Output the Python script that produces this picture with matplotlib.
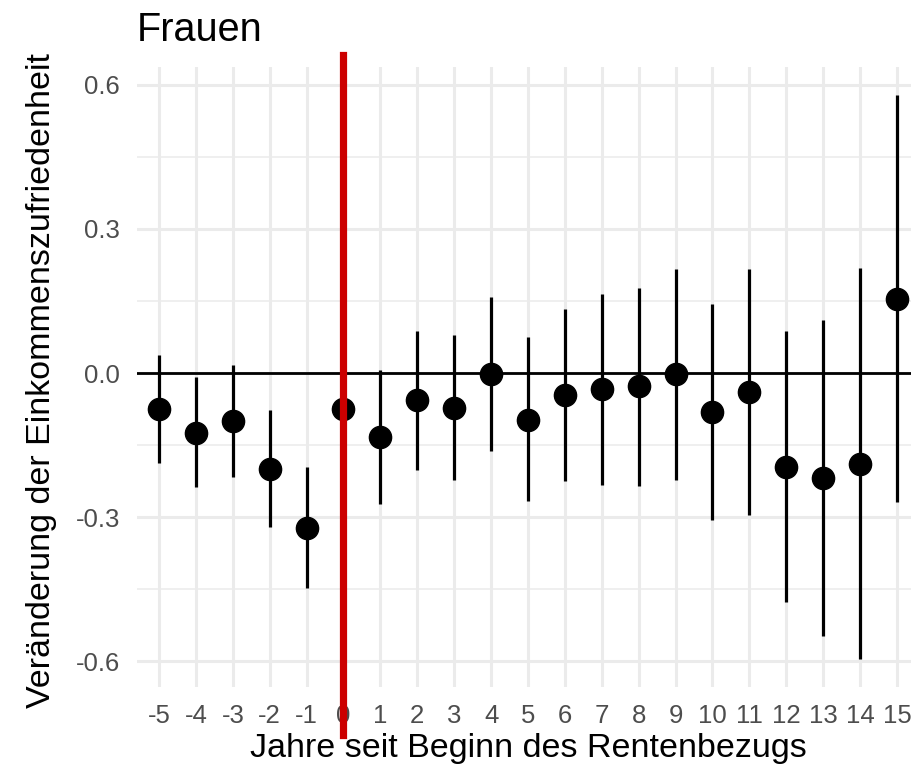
import matplotlib
matplotlib.use("Agg")
from matplotlib import pyplot as plt
from matplotlib.ticker import MultipleLocator
import numpy as np

# Jahre relativ zum Rentenbeginn und geschaetzte Effekte mit Konfidenzintervallen
jahre = [-5, -4, -3, -2, -1, 0, 1, 2, 3, 4, 5, 6, 7, 8, 9, 10, 11, 12, 13, 14, 15]
effekt = [-0.075, -0.124, -0.100, -0.199, -0.322, -0.076, -0.133, -0.056, -0.072, -0.002,
          -0.097, -0.046, -0.034, -0.027, -0.003, -0.082, -0.039, -0.195, -0.218, -0.189, 0.155]
ki_oben = [0.037, -0.009, 0.017, -0.078, -0.195, 0.052, 0.006, 0.088, 0.080, 0.158,
           0.074, 0.133, 0.165, 0.178, 0.216, 0.144, 0.216, 0.087, 0.111, 0.219, 0.579]
ki_unten = [-0.188, -0.238, -0.217, -0.320, -0.447, -0.204, -0.273, -0.202, -0.223, -0.163,
            -0.267, -0.225, -0.234, -0.235, -0.223, -0.307, -0.295, -0.476, -0.548, -0.596, -0.269]

y_ticks = [-0.6, -0.3, 0.0, 0.3, 0.6]
y_tick_labels = ["-0.6", "-0.3", "0.0", "0.3", "0.6"]

plt.rcParams['font.family'] = ['Liberation Sans', 'DejaVu Sans']

fig = plt.figure(figsize=(9.12, 7.68), dpi=100)
ax = fig.add_axes([0.1501, 0.1055, 0.8576, 0.8073])

# theme_minimal: no frame, light grid
for s in ax.spines.values():
    s.set_visible(False)
ax.set_axisbelow(True)
ax.grid(which='major', color='#EBEBEB', linewidth=2.2)
ax.yaxis.set_minor_locator(MultipleLocator(0.15))
ax.grid(which='minor', axis='y', color='#EBEBEB', linewidth=1.1)
ax.tick_params(which='both', length=0)
ax.tick_params(axis='both', labelsize=18.5, labelcolor='#4D4D4D', pad=12)

ax.axhline(0, color='black', linewidth=2.0, zorder=2)
ax.vlines(jahre, ki_unten, ki_oben, color='black', linewidth=2.3, zorder=3)
ax.plot(jahre, effekt, 'o', color='black', markersize=16, zorder=4)

# Rentenbeginn
ax.axvline(0, ymin=-0.077, ymax=1.019, color='#CC0000', linewidth=5.2,
           clip_on=False, zorder=5)

ax.set_xlim(-5.6, 15.6)
ax.set_ylim(-0.654, 0.6375)
ax.set_xticks(jahre)
ax.set_xticklabels([str(j) for j in jahre])
ax.set_yticks(y_ticks)
ax.set_yticklabels(y_tick_labels)

ax.set_xlabel("Jahre seit Beginn des Rentenbezugs", fontsize=24.5)
ax.set_ylabel("Veränderung der Einkommenszufriedenheit", fontsize=24.5)
ax.xaxis.set_label_coords(0.5, -0.075)
ax.yaxis.set_label_coords(-0.102, 0.495)
ax.set_title("Frauen", loc='left', fontsize=28.5, pad=19)

fig.savefig("out.png", dpi=100)
